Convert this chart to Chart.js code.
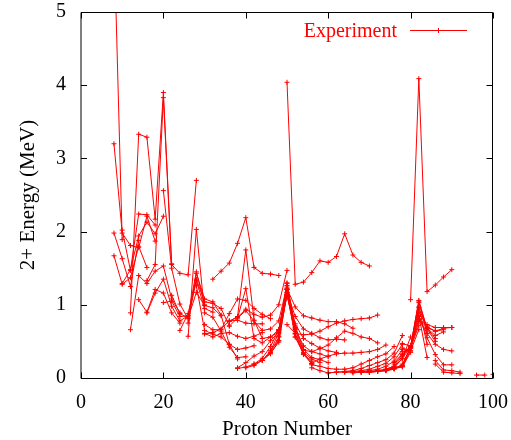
<!DOCTYPE html>
<html>
<head>
<meta charset="utf-8">
<script src="https://cdn.jsdelivr.net/npm/chart.js@4/dist/chart.umd.min.js"></script>
<style>
  html, body { margin: 0; padding: 0; background: #fff; }
  canvas { display: block; }
</style>
</head>
<body>
<canvas id="e2Chart" width="511" height="440"></canvas>
<script>
// 2+ energies (MeV) of even-even nuclei, one line per isotone chain (fixed N).
// Each point is [proton number Z, E(2+)].
const N8 = [[8, 6.05], [10, 1.89]];
const N10 = [[8, 1.98], [10, 1.63], [12, 1.25], [14, 1.88]];
const N12 = [[8, 1.67], [10, 1.28], [12, 1.37], [14, 1.80], [16, 1.51]];
const N14 = [[8, 3.20], [10, 1.98], [12, 1.81], [14, 1.78], [16, 2.21], [18, 1.87]];
const N16 = [[10, 2.02], [12, 1.47], [14, 2.24], [16, 2.23], [18, 2.09]];
const N18 = [[10, 1.29], [12, 1.48], [14, 1.94], [16, 2.13], [18, 1.97], [20, 2.21]];
const N20 = [[12, 0.89], [14, 3.33], [16, 3.29], [18, 2.17], [20, 3.90], [22, 1.56]];
const N22 = [[12, 0.66], [14, 1.40], [16, 1.29], [18, 1.46], [20, 1.53], [22, 1.08], [24, 0.89]];
const N24 = [[14, 1.07], [16, 0.90], [18, 1.21], [20, 1.16], [22, 0.89], [24, 0.75]];
const N26 = [[16, 0.89], [18, 1.16], [20, 1.35], [22, 0.98], [24, 0.78], [26, 0.85]];
const N28 = [[16, 1.33], [18, 1.55], [20, 3.83], [22, 1.55], [24, 1.43], [26, 1.41], [28, 2.70]];
const N30 = [[20, 1.03], [22, 1.05], [24, 0.84], [26, 0.85], [28, 1.45], [30, 1.00]];
const N32 = [[20, 2.56], [22, 1.50], [24, 1.01], [26, 0.81], [28, 1.33], [30, 0.95], [32, 0.90]];
const N34 = [[22, 1.13], [24, 0.88], [26, 0.82], [28, 1.17], [30, 0.99], [32, 0.96], [34, 0.85]];
const N36 = [[24, 0.65], [26, 0.88], [28, 1.35], [30, 1.04], [32, 1.02], [34, 0.95], [36, 0.71]];
const N38 = [[26, 0.75], [28, 1.43], [30, 1.08], [32, 1.04], [34, 0.86], [36, 0.46], [38, 0.26]];
const N40 = [[26, 0.57], [28, 2.03], [30, 0.89], [32, 0.83], [34, 0.64], [36, 0.42], [38, 0.28], [40, 0.29]];
const N42 = [[28, 1.26], [30, 0.65], [32, 0.60], [34, 0.56], [36, 0.46], [38, 0.39], [40, 0.41], [42, 0.44]];
const N44 = [[30, 0.61], [32, 0.56], [34, 0.61], [36, 0.62], [38, 0.57], [40, 0.54], [42, 0.57], [44, 0.62]];
const N46 = [[30, 0.60], [32, 0.62], [34, 0.67], [36, 0.78], [38, 0.79], [40, 0.75], [42, 0.74], [44, 0.74]];
const N48 = [[30, 0.73], [32, 0.66], [34, 0.66], [36, 0.88], [38, 1.08], [40, 1.06], [42, 0.95], [44, 0.87], [46, 0.81]];
const N50 = [[32, 1.35], [34, 1.46], [36, 1.57], [38, 1.84], [40, 2.19], [42, 1.51], [44, 1.43], [46, 1.42], [48, 1.40]];
const N52 = [[36, 0.78], [38, 0.83], [40, 0.94], [42, 0.87], [44, 0.83], [46, 0.86], [48, 1.00], [50, 1.47]];
const N54 = [[36, 0.71], [38, 0.82], [40, 0.92], [42, 0.78], [44, 0.65], [46, 0.67], [48, 0.78], [50, 1.26]];
const N56 = [[36, 0.77], [38, 0.84], [40, 1.75], [42, 0.79], [44, 0.54], [46, 0.56], [48, 0.66], [50, 1.21]];
const N58 = [[38, 0.82], [40, 1.22], [42, 0.54], [44, 0.48], [46, 0.56], [48, 0.63], [50, 1.21], [52, 0.66]];
const N60 = [[38, 0.14], [40, 0.21], [42, 0.30], [44, 0.36], [46, 0.51], [48, 0.63], [50, 1.21], [52, 0.69]];
const N62 = [[38, 0.13], [40, 0.15], [42, 0.19], [44, 0.27], [46, 0.43], [48, 0.66], [50, 1.26], [52, 0.71], [54, 0.39]];
const N64 = [[40, 0.14], [42, 0.17], [44, 0.24], [46, 0.37], [48, 0.62], [50, 1.30], [52, 0.68], [54, 0.34], [56, 0.19]];
const N66 = [[42, 0.19], [44, 0.24], [46, 0.35], [48, 0.56], [50, 1.29], [52, 0.61], [54, 0.32], [56, 0.20]];
const N68 = [[44, 0.24], [46, 0.33], [48, 0.51], [50, 1.23], [52, 0.56], [54, 0.33], [56, 0.23]];
const N70 = [[46, 0.34], [48, 0.49], [50, 1.17], [52, 0.56], [54, 0.35], [56, 0.26], [58, 0.21]];
const N72 = [[46, 0.38], [48, 0.51], [50, 1.14], [52, 0.60], [54, 0.39], [56, 0.28], [58, 0.25], [60, 0.21]];
const N74 = [[48, 0.57], [50, 1.13], [52, 0.67], [54, 0.44], [56, 0.36], [58, 0.33], [60, 0.29]];
const N76 = [[48, 0.61], [50, 1.14], [52, 0.74], [54, 0.54], [56, 0.47], [58, 0.41], [60, 0.37], [62, 0.35]];
const N78 = [[48, 0.65], [50, 1.17], [52, 0.84], [54, 0.67], [56, 0.61], [58, 0.55], [60, 0.52], [62, 0.53], [64, 0.52]];
const N80 = [[48, 0.65], [50, 1.22], [52, 0.97], [54, 0.85], [56, 0.82], [58, 0.79], [60, 0.77], [62, 0.77], [64, 0.74], [66, 0.68]];
const N82 = [[50, 4.04], [52, 1.28], [54, 1.31], [56, 1.44], [58, 1.60], [60, 1.58], [62, 1.66], [64, 1.97], [66, 1.68], [68, 1.58], [70, 1.53]];
const N84 = [[50, 0.73], [52, 0.61], [54, 0.59], [56, 0.60], [58, 0.64], [60, 0.70], [62, 0.75], [64, 0.78], [66, 0.80], [68, 0.81], [70, 0.82], [72, 0.86]];
const N86 = [[54, 0.38], [56, 0.36], [58, 0.40], [60, 0.45], [62, 0.55], [64, 0.64], [66, 0.61], [68, 0.56], [70, 0.54], [72, 0.48]];
const N88 = [[56, 0.20], [58, 0.26], [60, 0.30], [62, 0.33], [64, 0.34], [66, 0.34], [68, 0.35], [70, 0.36], [72, 0.39], [74, 0.45]];
const N90 = [[56, 0.18], [58, 0.16], [60, 0.13], [62, 0.12], [64, 0.12], [66, 0.14], [68, 0.19], [70, 0.24], [72, 0.29], [74, 0.33], [76, 0.43]];
const N92 = [[56, 0.14], [58, 0.10], [60, 0.07], [62, 0.08], [64, 0.09], [66, 0.10], [68, 0.13], [70, 0.17], [72, 0.21], [74, 0.25], [76, 0.34], [78, 0.58]];
const N94 = [[60, 0.07], [62, 0.08], [64, 0.08], [66, 0.09], [68, 0.10], [70, 0.12], [72, 0.16], [74, 0.20], [76, 0.29], [78, 0.46]];
const N96 = [[64, 0.08], [66, 0.08], [68, 0.09], [70, 0.10], [72, 0.12], [74, 0.16], [76, 0.23], [78, 0.39]];
const N98 = [[66, 0.07], [68, 0.08], [70, 0.09], [72, 0.10], [74, 0.12], [76, 0.16], [78, 0.26], [80, 0.56]];
const N100 = [[68, 0.08], [70, 0.08], [72, 0.10], [74, 0.11], [76, 0.14], [78, 0.17], [80, 0.43]];
const N102 = [[68, 0.08], [70, 0.08], [72, 0.09], [74, 0.11], [76, 0.13], [78, 0.15], [80, 0.35]];
const N104 = [[70, 0.08], [72, 0.09], [74, 0.11], [76, 0.13], [78, 0.16], [80, 0.37], [82, 0.66]];
const N106 = [[70, 0.08], [72, 0.09], [74, 0.10], [76, 0.13], [78, 0.16], [80, 0.41], [82, 0.72]];
const N108 = [[72, 0.09], [74, 0.10], [76, 0.12], [78, 0.19], [80, 0.41], [82, 0.77]];
const N110 = [[74, 0.11], [76, 0.14], [78, 0.27], [80, 0.42], [82, 0.85], [84, 0.28]];
const N112 = [[74, 0.12], [76, 0.16], [78, 0.30], [80, 0.42], [82, 0.97], [84, 0.46]];
const N114 = [[76, 0.19], [78, 0.32], [80, 0.43], [82, 1.05], [84, 0.61]];
const N116 = [[76, 0.21], [78, 0.33], [80, 0.43], [82, 1.06], [84, 0.67], [86, 0.50]];
const N118 = [[78, 0.36], [80, 0.41], [82, 1.03], [84, 0.68], [86, 0.54]];
const N120 = [[78, 0.41], [80, 0.37], [82, 0.96], [84, 0.68], [86, 0.58], [88, 0.63]];
const N122 = [[78, 0.47], [80, 0.44], [82, 0.90], [84, 0.70], [86, 0.64], [88, 0.66]];
const N124 = [[80, 0.44], [82, 0.80], [84, 0.69], [86, 0.64], [88, 0.68], [90, 0.69]];
const N126 = [[80, 1.07], [82, 4.09], [84, 1.18], [86, 1.27], [88, 1.38], [90, 1.48]];
const N128 = [[82, 0.80], [84, 0.73], [86, 0.69], [88, 0.69], [90, 0.69]];
const N130 = [[82, 0.81], [84, 0.61], [86, 0.46], [88, 0.39], [90, 0.37]];
const N132 = [[82, 0.84], [84, 0.55], [86, 0.32], [88, 0.18], [90, 0.18]];
const N134 = [[86, 0.24], [88, 0.11], [90, 0.10], [92, 0.08]];
const N136 = [[86, 0.19], [88, 0.08], [90, 0.07], [92, 0.06]];
const N150 = [[96, 0.04], [98, 0.04]];
const N152 = [[100, 0.05], [102, 0.04]];

const chains = [N8, N10, N12, N14, N16, N18, N20, N22, N24, N26, N28, N30, N32, N34, N36,
  N38, N40, N42, N44, N46, N48, N50, N52, N54, N56, N58, N60, N62, N64, N66, N68, N70,
  N72, N74, N76, N78, N80, N82, N84, N86, N88, N90, N92, N94, N96, N98, N100, N102,
  N104, N106, N108, N110, N112, N114, N116, N118, N120, N122, N124, N126, N128, N130,
  N132, N134, N136, N150, N152];

const xTicks = [0, 20, 40, 60, 80, 100];
const yTicks = [0, 1, 2, 3, 4, 5];
const legendLabel = "Experiment";

const RED = "#ff0000";
const SERIF = "'Liberation Serif', 'Times New Roman', serif";

// gnuplot-like frame with inward ticks on all four sides + the key
const framePlugin = {
    id: "frame",
    afterDraw(chart) {
        const { ctx, chartArea: a, scales } = chart;
        const L = Math.round(a.left), R = Math.round(a.right) - 0.5;
        const T = Math.round(a.top) + 0.5, B = Math.round(a.bottom) + 0.5;
        const len = 6;
        ctx.save();
        ctx.strokeStyle = "#000";
        ctx.lineWidth = 1;
        ctx.beginPath();
        ctx.rect(L, T, R - L, B - T);
        xTicks.forEach(v => {
            const px = Math.round(scales.x.getPixelForValue(v)) + 0.5;
            ctx.moveTo(px, B); ctx.lineTo(px, B - len);
            ctx.moveTo(px, T); ctx.lineTo(px, T + len);
        });
        yTicks.forEach(v => {
            const py = Math.round(scales.y.getPixelForValue(v)) + 0.5;
            ctx.moveTo(L, py); ctx.lineTo(L + len, py);
            ctx.moveTo(R, py); ctx.lineTo(R - len, py);
        });
        ctx.stroke();

        // key
        const ky = 30.5;
        ctx.fillStyle = RED;
        ctx.font = "20px " + SERIF;
        ctx.textAlign = "right";
        ctx.textBaseline = "middle";
        ctx.fillText(legendLabel, 397, ky + 1);
        ctx.strokeStyle = RED;
        ctx.beginPath();
        ctx.moveTo(410, ky); ctx.lineTo(467, ky);
        ctx.moveTo(438.5, ky - 2.5); ctx.lineTo(438.5, ky + 2.5);
        ctx.stroke();
        ctx.restore();
    }
};

const datasets = chains.map(chain => ({
    data: chain.map(([z, e]) => ({ x: z, y: e })),
    borderColor: RED,
    borderWidth: 1,
    pointStyle: "cross",
    pointRadius: 2.5,
    pointBorderWidth: 1,
    pointBorderColor: RED,
    pointBackgroundColor: RED,
    tension: 0,
    fill: false
}));

new Chart(document.getElementById("e2Chart").getContext("2d"), {
    type: "line",
    data: { datasets },
    options: {
        responsive: false,
        animation: false,
        layout: { padding: { top: 12, right: 18, left: 0, bottom: 0 } },
        plugins: {
            legend: { display: false },
            tooltip: { enabled: false }
        },
        scales: {
            x: {
                type: "linear",
                min: 0,
                max: 100,
                afterFit: s => {
                    s.height = 62;
                    s.paddingLeft = 0;
                    s.paddingRight = 0;
                },
                grid: { display: false, drawTicks: false },
                border: { display: false },
                ticks: {
                    stepSize: 20,
                    padding: 13,
                    maxRotation: 0,
                    color: "#000",
                    font: { family: SERIF, size: 20 }
                },
                title: {
                    display: true,
                    text: "Proton Number",
                    color: "#000",
                    font: { family: SERIF, size: 21, lineHeight: 1 },
                    padding: { top: 0, bottom: 0 }
                }
            },
            y: {
                min: 0,
                max: 5,
                afterFit: s => {
                    s.width = 81;
                    s.paddingTop = 0;
                    s.paddingBottom = 0;
                },
                grid: { display: false, drawTicks: false },
                border: { display: false },
                ticks: {
                    stepSize: 1,
                    padding: 15,
                    color: "#000",
                    font: { family: SERIF, size: 20 }
                },
                title: {
                    display: true,
                    text: "2+ Energy (MeV)",
                    color: "#000",
                    font: { family: SERIF, size: 21 },
                    padding: { top: 15.5, bottom: 0 }
                }
            }
        }
    },
    plugins: [framePlugin]
});
</script>
</body>
</html>
